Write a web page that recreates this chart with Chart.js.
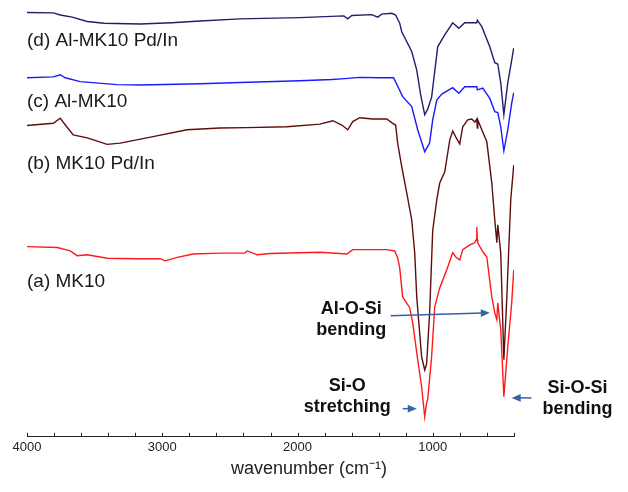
<!DOCTYPE html>
<html>
<head>
<meta charset="utf-8">
<script src="https://cdn.jsdelivr.net/npm/chart.js@4.4.0/dist/chart.umd.min.js"></script>
<style>
  html, body { margin: 0; padding: 0; background: #fff; }
</style>
</head>
<body>
<canvas id="ftir" width="628" height="492"></canvas>
<script>
// FTIR spectra, wavenumber (cm-1) vs offset transmittance (a.u.)
var dWn  = [4000, 3806, 3754, 3666, 3555, 3430, 3164, 2928, 2721, 2426, 1983, 1658, 1629, 1599, 1452, 1407, 1378, 1304, 1275, 1245, 1230, 1156, 1119, 1090, 1060, 1038, 1009, 964, 912, 853, 808, 764, 675, 671, 638, 579, 542, 520, 498, 475, 446, 417, 402];
var dVal = [98.5, 98.4, 97.9, 97.4, 96.4, 96.0, 95.8, 96.1, 96.5, 97.0, 97.3, 97.7, 97.0, 97.8, 98.0, 97.4, 98.1, 98.3, 97.9, 96.0, 94.0, 89.4, 85.1, 79.3, 74.7, 76.0, 78.8, 90.5, 93.3, 96.1, 94.8, 96.1, 96.1, 96.7, 95.2, 90.5, 86.8, 86.5, 82.1, 74.7, 82.1, 87.4, 90.2];

var cWn  = [4000, 3806, 3754, 3717, 3607, 3334, 3164, 2721, 2426, 1983, 1747, 1651, 1540, 1393, 1290, 1223, 1156, 1112, 1060, 1024, 1001, 971, 934, 853, 808, 764, 675, 671, 631, 579, 542, 520, 498, 475, 446, 417, 402];
var cVal = [83.3, 83.5, 84.0, 83.3, 82.4, 81.7, 81.6, 81.9, 82.2, 82.6, 82.9, 83.1, 83.4, 83.3, 83.3, 78.9, 76.6, 71.2, 66.1, 68.1, 73.5, 78.1, 79.5, 81.0, 79.7, 81.2, 81.2, 80.5, 80.9, 78.5, 75.4, 75.2, 71.9, 66.3, 71.2, 77.4, 79.8];

var bWn  = [4000, 3806, 3754, 3717, 3658, 3555, 3407, 3311, 3068, 2817, 2574, 2374, 2079, 1835, 1739, 1673, 1629, 1592, 1540, 1444, 1341, 1297, 1275, 1260, 1230, 1193, 1156, 1134, 1119, 1083, 1060, 1046, 1024, 1001, 971, 949, 912, 875, 853, 830, 801, 779, 742, 712, 690, 675, 671, 668, 638, 601, 564, 542, 527, 520, 498, 475, 453, 424, 402];
var bVal = [72.2, 72.7, 73.9, 72.3, 70.0, 69.3, 67.8, 68.1, 69.6, 71.2, 71.6, 71.7, 71.9, 72.5, 73.3, 72.3, 71.2, 73.1, 74.0, 73.7, 73.7, 72.7, 72.3, 68.1, 62.6, 56.5, 50.2, 42.6, 32.3, 18.4, 15.3, 16.7, 28.4, 47.7, 54.9, 58.8, 61.4, 68.8, 70.9, 69.5, 67.9, 71.9, 73.5, 73.7, 73.0, 73.7, 71.6, 73.5, 71.2, 68.4, 58.8, 50.2, 44.9, 49.1, 42.6, 17.7, 32.3, 54.9, 63.0];

var aWn  = [4000, 3776, 3680, 3629, 3555, 3407, 3186, 3016, 2979, 2890, 2772, 2574, 2389, 2374, 2352, 2300, 2204, 1835, 1636, 1592, 1341, 1282, 1260, 1245, 1223, 1171, 1149, 1112, 1083, 1060, 1046, 1038, 1009, 986, 949, 897, 853, 830, 801, 779, 727, 690, 679, 675, 671, 668, 631, 601, 564, 542, 527, 520, 498, 475, 446, 417, 402];
var aVal = [44.0, 43.8, 43.0, 41.9, 42.1, 41.3, 41.2, 41.2, 40.7, 41.5, 42.3, 42.5, 42.5, 43.0, 42.8, 42.1, 42.4, 42.7, 42.3, 43.3, 43.3, 43.0, 41.4, 39.1, 32.3, 29.8, 26.3, 17.7, 11.4, 4.4, 7.7, 8.4, 18.4, 30.0, 34.4, 38.6, 42.6, 41.6, 40.9, 43.3, 44.4, 44.9, 45.6, 48.6, 45.6, 44.9, 42.8, 41.6, 32.3, 28.6, 27.0, 30.9, 24.7, 9.1, 20.7, 30.9, 38.6];

var seriesNames = ['(d) Al-MK10 Pd/In', '(c) Al-MK10', '(b) MK10 Pd/In', '(a) MK10'];
var seriesColors = ['#1f1f6b', '#1a1aff', '#5c0d0d', '#ff1a1a'];
var nameVal = [91.9, 77.7, 63.3, 35.8];

var xLabels = [4000, 3000, 2000, 1000];
var xMinor = [4000, 3800, 3600, 3400, 3200, 3000, 2800, 2600, 2400, 2200, 2000, 1800, 1600, 1400, 1200, 1000, 800, 600, 400];

// band assignments and their arrows
var noteText = [['Al-O-Si', 'bending'], ['Si-O', 'stretching'], ['Si-O-Si', 'bending']];
var noteWn = [1603, 1632, -69];
var noteVal = [27.15, 9.07, 8.72];
var arrowFromWn = [1312, 1223, 271];
var arrowFromVal = [27.9, 6.3, 8.8];
var arrowToWn = [579, 1119, 417];
var arrowToVal = [28.6, 6.3, 8.8];

var FONT = '"Liberation Sans", Arial, sans-serif';

function pts(wn, val) {
  return wn.map(function (w, i) { return {x: w, y: val[i]}; });
}

var spectra = [[dWn, dVal], [cWn, cVal], [bWn, bVal], [aWn, aVal]];

var decor = {
  id: 'decor',
  afterDatasetsDraw: function (chart) {
    var ctx = chart.ctx, sx = chart.scales.x, sy = chart.scales.y, area = chart.chartArea;
    ctx.save();

    // tick marks pointing up from the axis
    ctx.strokeStyle = '#222';
    ctx.lineWidth = 1;
    xMinor.forEach(function (v) {
      var px = Math.round(sx.getPixelForValue(v)) + 0.5;
      ctx.beginPath();
      ctx.moveTo(px, area.bottom);
      ctx.lineTo(px, area.bottom - 4);
      ctx.stroke();
    });

    // spectrum names
    ctx.fillStyle = '#1a1a1a';
    ctx.font = '19px ' + FONT;
    ctx.textAlign = 'left';
    ctx.textBaseline = 'middle';
    seriesNames.forEach(function (n, i) {
      ctx.fillText(n, sx.getPixelForValue(4000), sy.getPixelForValue(nameVal[i]));
    });

    // band labels
    ctx.font = 'bold 18px ' + FONT;
    ctx.textAlign = 'center';
    ctx.fillStyle = '#111';
    noteText.forEach(function (lines, i) {
      var cx = sx.getPixelForValue(noteWn[i]), cy = sy.getPixelForValue(noteVal[i]);
      lines.forEach(function (t, j) {
        ctx.fillText(t, cx, cy + (j - (lines.length - 1) / 2) * 21);
      });
    });

    // arrows
    ctx.strokeStyle = '#3563a6';
    ctx.fillStyle = '#3563a6';
    ctx.lineWidth = 1.5;
    arrowFromWn.forEach(function (w, i) {
      var x0 = sx.getPixelForValue(w), y0 = sy.getPixelForValue(arrowFromVal[i]);
      var x1 = sx.getPixelForValue(arrowToWn[i]), y1 = sy.getPixelForValue(arrowToVal[i]);
      var a = Math.atan2(y1 - y0, x1 - x0), c = Math.cos(a), s = Math.sin(a);
      ctx.beginPath();
      ctx.moveTo(x0, y0);
      ctx.lineTo(x1 - 7 * c, y1 - 7 * s);
      ctx.stroke();
      ctx.beginPath();
      ctx.moveTo(x1, y1);
      ctx.lineTo(x1 - 9 * c + 3.8 * s, y1 - 9 * s - 3.8 * c);
      ctx.lineTo(x1 - 9 * c - 3.8 * s, y1 - 9 * s + 3.8 * c);
      ctx.closePath();
      ctx.fill();
    });

    ctx.restore();
  }
};

var ctx = document.getElementById('ftir');
var ftirChart = new Chart(ctx, {
  type: 'line',
  data: {
    datasets: spectra.map(function (sp, i) {
      return {
        label: seriesNames[i],
        data: pts(sp[0], sp[1]),
        borderColor: seriesColors[i],
        borderWidth: 1.4,
        pointRadius: 0,
        tension: 0,
        fill: false
      };
    })
  },
  options: {
    responsive: false,
    animation: false,
    layout: { padding: { left: 27, right: 37, top: 6, bottom: 12 } },
    plugins: {
      legend: { display: false },
      tooltip: { enabled: false },
      title: {
        display: true,
        position: 'bottom',
        text: 'wavenumber (cm⁻¹)',
        color: '#222',
        font: { family: FONT, size: 18, weight: 'normal' },
        padding: 0
      }
    },
    scales: {
      x: {
        type: 'linear',
        reverse: true,
        min: 400,
        max: 4000,
        grid: { display: false, drawTicks: false },
        border: { display: true, color: '#222', width: 1 },
        ticks: {
          padding: 3,
          color: '#222',
          font: { family: FONT, size: 13 },
          callback: function (v) { return String(v); }
        },
        afterBuildTicks: function (s) {
          s.ticks = xLabels.map(function (v) { return {value: v}; });
        }
      },
      y: {
        position: 'right',
        min: -0.25,
        max: 100,
        grid: { display: false, drawTicks: false },
        border: { display: false },
        ticks: { display: false },
        afterFit: function (s) { s.width = 77; }
      }
    }
  },
  plugins: [decor]
});
</script>
</body>
</html>
